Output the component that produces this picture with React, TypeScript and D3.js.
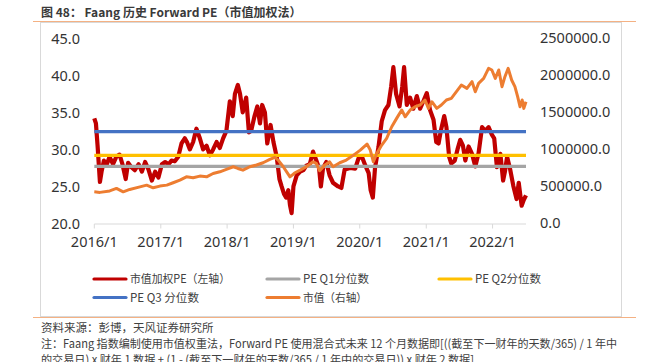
import React from "react";
import * as d3 from "d3";

const peDates = [
  "2016-01-01","2016-01-10","2016-01-19","2016-02-01","2016-02-10","2016-02-23","2016-03-07","2016-03-25",
  "2016-04-13","2016-05-01","2016-05-19","2016-06-04","2016-06-22","2016-07-05","2016-07-23","2016-08-11",
  "2016-09-01","2016-09-19","2016-10-07","2016-10-25","2016-11-13","2016-12-01","2016-12-19","2017-01-07",
  "2017-01-25","2017-02-13","2017-03-01","2017-03-19","2017-04-07","2017-04-25","2017-05-13","2017-05-25",
  "2017-06-10","2017-06-28","2017-07-16","2017-08-04","2017-08-22","2017-09-10","2017-09-28","2017-10-16",
  "2017-11-04","2017-11-22","2017-12-10","2017-12-28","2018-01-16","2018-02-01","2018-02-13","2018-03-01",
  "2018-03-13","2018-03-28","2018-04-16","2018-05-01","2018-05-13","2018-06-01","2018-06-16","2018-07-01",
  "2018-07-13","2018-07-28","2018-08-10","2018-08-28","2018-09-13","2018-10-01","2018-10-16","2018-10-28",
  "2018-11-10","2018-11-22","2018-12-04","2018-12-13","2018-12-22","2019-01-01","2019-01-19","2019-02-07",
  "2019-02-25","2019-03-13","2019-04-01","2019-04-19","2019-05-07","2019-05-22","2019-06-01","2019-06-13",
  "2019-07-01","2019-07-19","2019-08-07","2019-09-04","2019-09-22","2019-10-10","2019-11-10","2019-12-07",
  "2019-12-25","2020-01-13","2020-02-01","2020-02-19","2020-03-01","2020-03-13","2020-03-25","2020-04-13",
  "2020-05-01","2020-05-19","2020-06-07","2020-06-22","2020-07-04","2020-07-19","2020-08-07","2020-08-22",
  "2020-09-01","2020-09-16","2020-10-04","2020-10-22","2020-11-10","2020-11-28","2020-12-16","2021-01-04",
  "2021-01-22","2021-02-10","2021-02-25","2021-03-10","2021-03-22","2021-04-10","2021-04-22","2021-05-07",
  "2021-05-19","2021-06-07","2021-06-22","2021-07-07","2021-07-22","2021-08-04","2021-08-22","2021-09-10",
  "2021-09-28","2021-10-16","2021-11-04","2021-11-22","2021-12-10","2021-12-28","2022-01-10","2022-01-25",
  "2022-02-13","2022-02-28","2022-03-10","2022-03-22","2022-04-07","2022-04-25","2022-05-13","2022-05-25",
  "2022-06-10","2022-06-22","2022-07-04"
];
const peValues = [
  34.2,33.5,30.5,25.6,27.0,28.5,27.8,29.0,
  28.0,29.0,29.3,28.0,26.0,28.2,27.6,27.2,
  28.0,27.0,28.3,27.3,25.8,27.0,26.2,28.0,
  28.3,28.0,28.5,28.4,29.0,30.8,31.5,31.0,
  30.0,31.0,32.8,31.5,30.0,30.5,29.2,30.0,
  31.0,30.2,31.5,32.5,36.5,34.5,37.5,38.7,
  37.5,35.0,37.0,32.3,32.5,34.5,35.8,33.5,
  36.0,35.0,30.8,33.3,31.0,29.0,26.0,25.0,
  24.0,23.5,24.5,22.5,21.4,25.0,26.5,27.0,
  27.2,27.8,28.0,29.7,28.5,27.5,25.0,27.5,
  28.3,26.5,25.5,25.0,24.8,27.3,27.5,27.4,
  28.8,29.0,27.8,26.8,24.5,23.5,27.5,30.3,
  33.8,35.3,36.0,38.5,41.1,37.5,35.8,38.5,
  41.1,36.0,37.0,35.5,37.2,35.5,36.5,37.6,
  35.3,34.0,31.0,30.8,32.5,34.5,33.0,29.0,
  28.1,28.5,30.0,31.3,30.5,28.5,30.4,29.4,
  27.7,29.5,33.0,32.5,33.0,32.0,31.5,27.6,
  29.4,25.8,27.0,29.0,27.4,25.1,23.3,25.5,
  22.4,23.2,23.8
];

const capDates = [
  "2016-01-01","2016-02-01","2016-03-26","2016-05-02","2016-06-08","2016-07-14","2016-09-08","2016-10-15",
  "2016-11-20","2016-12-27","2017-02-03","2017-03-10","2017-04-16","2017-05-22","2017-06-28","2017-08-04",
  "2017-09-10","2017-10-16","2017-11-22","2017-12-28","2018-02-04","2018-03-01","2018-03-29","2018-05-06",
  "2018-06-12","2018-07-18","2018-08-24","2018-09-21","2018-10-09","2018-11-06","2018-12-13","2019-01-10",
  "2019-02-07","2019-03-13","2019-04-19","2019-05-07","2019-05-25","2019-06-22","2019-07-19","2019-08-07",
  "2019-09-13","2019-10-19","2019-11-28","2020-01-04","2020-02-10","2020-02-28","2020-03-16","2020-04-04",
  "2020-05-01","2020-05-28","2020-06-25","2020-07-22","2020-08-19","2020-09-07","2020-10-04","2020-11-01",
  "2020-11-28","2020-12-25","2021-01-13","2021-02-01","2021-02-28","2021-03-25","2021-04-22","2021-05-19",
  "2021-06-16","2021-07-13","2021-08-13","2021-09-10","2021-09-28","2021-10-16","2021-11-13","2021-12-10",
  "2021-12-28","2022-01-16","2022-02-04","2022-02-22","2022-03-10","2022-03-28","2022-04-16","2022-05-04",
  "2022-05-19","2022-06-01","2022-06-13","2022-06-22","2022-07-04"
];
const capValues = [
  427000,420000,440000,473000,427000,460000,495000,518000,
  482000,505000,518000,550000,585000,630000,617000,640000,
  630000,675000,698000,730000,766000,743000,720000,766000,
  790000,820000,865000,892000,856000,766000,630000,685000,
  720000,766000,833000,811000,712000,788000,833000,766000,
  820000,856000,923000,991000,1072000,991000,833000,946000,
  1059000,1149000,1306000,1419000,1532000,1441000,1532000,1577000,
  1599000,1667000,1554000,1644000,1554000,1599000,1667000,1689000,
  1779000,1869000,1824000,1914000,1779000,1892000,1959000,2095000,
  2072000,1959000,2072000,1847000,1982000,2095000,1937000,1847000,
  1712000,1577000,1667000,1554000,1644000
];

const quantileNames = ["PE Q1分位数", "PE Q2分位数", "PE Q3 分位数"];
const quantileValues = [27.7, 29.2, 32.4];

const leftTicks = [20, 25, 30, 35, 40, 45];
const rightTicks = [0, 500000, 1000000, 1500000, 2000000, 2500000];
const xTickLabels = ["2016/1", "2017/1", "2018/1", "2019/1", "2020/1", "2021/1", "2022/1"];

const titleText = "图 48： Faang 历史 Forward PE（市值加权法）";
const sourceText = "资料来源：彭博，天风证券研究所";
const noteLine1 = "注：Faang 指数编制使用市值权重法，Forward PE 使用混合式未来 12 个月数据即[((截至下一财年的天数/365) / 1 年中";
const noteLine2 = "的交易日) x 财年 1 数据 + (1 - (截至下一财年的天数/365 / 1 年中的交易日)) x 财年 2 数据]";

const C_RED = "#C00000";
const C_GRAY = "#A5A5A5";
const C_YEL = "#FFC000";
const C_BLUE = "#4472C4";
const C_ORA = "#ED7D31";
const quantileColors = [C_GRAY, C_YEL, C_BLUE];

const FONT = "'Noto Sans CJK SC', 'Noto Sans', sans-serif";
const TXT = "#333333";

export default function App() {
  const parse = d3.timeParse("%Y-%m-%d");
  const pe = peDates.map((d, i) => ({ d: parse(d) as Date, v: peValues[i] }));
  const cap = capDates.map((d, i) => ({ d: parse(d) as Date, v: capValues[i] }));

  const x = d3.scaleTime()
    .domain([parse("2016-01-01") as Date, parse("2022-07-04") as Date])
    .range([94.3, 526]);
  const yL = d3.scaleLinear().domain([20, 45]).range([223.5, 38.3]);
  const yR = d3.scaleLinear().domain([0, 2500000]).range([223.5, 38.3]);

  const linePE = d3.line<{ d: Date; v: number }>().x(p => x(p.d)).y(p => yL(p.v));
  const lineCap = d3.line<{ d: Date; v: number }>().x(p => x(p.d)).y(p => yR(p.v));

  const xTickDates = xTickLabels.map(s => {
    const [yy, mm] = s.split("/");
    return new Date(+yy, +mm - 1, 1);
  });
  const [x0, x1] = x.range();
  const fmt1 = d3.format(".1f");

  const legendItems = [
    { label: "市值加权PE（左轴）", color: C_RED, lx: 94, ly: 279, w: 100 },
    { label: quantileNames[0], color: quantileColors[0], lx: 267, ly: 279, w: 66 },
    { label: quantileNames[1], color: quantileColors[1], lx: 439, ly: 279, w: 66 },
    { label: quantileNames[2], color: quantileColors[2], lx: 94, ly: 297.5, w: 69 },
    { label: "市值（右轴）", color: C_ORA, lx: 267, ly: 297.5, w: 64 },
  ];

  return (
    <svg width={646} height={362} style={{ position: "absolute", left: 0, top: 0, background: "#fff" }}
      fontFamily={FONT}>
      <rect x={0} y={0} width={646} height={362} fill="#fff" />
      <text x={41} y={16.5} fontSize={12} fontWeight="bold" fill="#3a3a3a">{titleText}</text>
      <rect x={40.5} y={22.5} width={581} height={294} fill="none" stroke="#D9D9D9" strokeWidth={1} />
      <line x1={33} x2={636} y1={21.5} y2={21.5} stroke="#F4B183" strokeWidth={1.2} />
      <line x1={33} x2={636} y1={317.5} y2={317.5} stroke="#F4B183" strokeWidth={1.2} />

      {/* x axis */}
      <line x1={x0} x2={x1} y1={224} y2={224} stroke="#D9D9D9" strokeWidth={1} />
      {xTickDates.map((d, i) => (
        <g key={i}>
          <line x1={x(d)} x2={x(d)} y1={224} y2={228.5} stroke="#D9D9D9" />
          <text x={x(d)} y={247} textAnchor="middle" fontSize={14.5} fill={TXT}
            fontFamily="'Noto Sans', sans-serif">{xTickLabels[i]}</text>
        </g>
      ))}
      {leftTicks.map(t => (
        <text key={t} x={80} y={yL(t)} dy="0.36em" textAnchor="end" fontSize={14.5} fill={TXT}
          fontFamily="'Noto Sans', sans-serif">{fmt1(t)}</text>
      ))}
      {rightTicks.map(t => (
        <text key={t} x={540} y={yR(t) - 1} dy="0.36em" textAnchor="start" fontSize={14.5} fill={TXT}
          fontFamily="'Noto Sans', sans-serif">{fmt1(t)}</text>
      ))}

      {/* series */}
      <path d={linePE(pe) || ""} fill="none" stroke={C_RED} strokeWidth={4.2} strokeLinejoin="round" />
      {quantileValues.map((q, i) => (
        <line key={i} x1={x0} x2={x1} y1={yL(q)} y2={yL(q)} stroke={quantileColors[i]} strokeWidth={3.2} />
      ))}
      <path d={lineCap(cap) || ""} fill="none" stroke={C_ORA} strokeWidth={3} strokeLinejoin="round" />

      {/* legend */}
      {legendItems.map((it, i) => (
        <g key={i}>
          <line x1={it.lx} x2={it.lx + 32} y1={it.ly} y2={it.ly} stroke={it.color} strokeWidth={3.2} strokeLinecap="round" />
          <text x={it.lx + 36} y={it.ly} dy="0.35em" fontSize={11.5} fill="#404040"
            textLength={it.w} lengthAdjust="spacingAndGlyphs">{it.label}</text>
        </g>
      ))}

      <text x={41} y={331.5} fontSize={11.5} fill="#404040">{sourceText}</text>
      <text x={41} y={348} fontSize={11.5} fill="#404040" textLength={576} lengthAdjust="spacingAndGlyphs">{noteLine1}</text>
      <text x={41} y={363.5} fontSize={11.5} fill="#404040" textLength={433} lengthAdjust="spacingAndGlyphs">{noteLine2}</text>
    </svg>
  );
}
